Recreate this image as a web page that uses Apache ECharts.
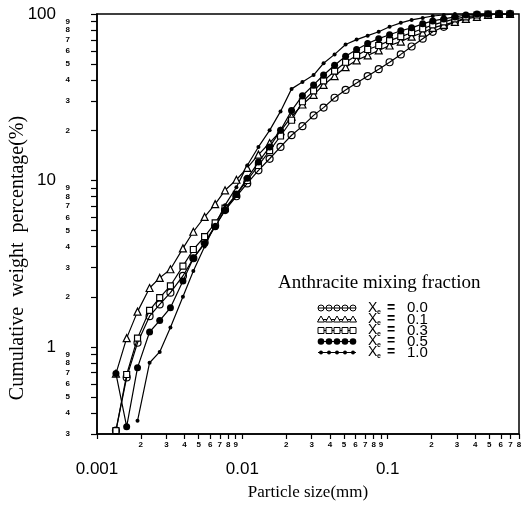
<!DOCTYPE html>
<html><head><meta charset="utf-8">
<script src="https://cdn.jsdelivr.net/npm/echarts@6/dist/echarts.min.js"></script>
<style>html,body{margin:0;padding:0;background:#fff}#c{width:525px;height:506px}</style>
</head><body><div id="c"></div>
<script>
// Particle sizes (mm) of the sieve fractions
const sizes = [0.00135, 0.0016, 0.0019, 0.0023, 0.0027, 0.0032, 0.0039, 0.0046, 0.0055, 0.0065, 0.0076, 0.0091, 0.0108, 0.0129, 0.0154, 0.0183, 0.0218, 0.0259, 0.0309, 0.0362, 0.0431, 0.0513, 0.0611, 0.0728, 0.0867, 0.103, 0.123, 0.146, 0.174, 0.204, 0.243, 0.290, 0.345, 0.411, 0.490, 0.583, 0.694];
// Cumulative weight percentage for each anthracite mixing fraction
const frac00 = [0.314, 0.656, 1.06, 1.53, 1.80, 2.12, 2.67, 3.41, 4.24, 5.34, 6.64, 8.04, 9.60, 11.5, 13.5, 15.9, 18.7, 21.2, 24.6, 27.4, 31.4, 35.0, 38.5, 42.4, 46.6, 51.3, 57.2, 63.8, 71.1, 78.2, 83.8, 89.7, 94.7, 97.3, 98.6, 100, 100];
const frac01 = [0.692, 1.13, 1.63, 2.26, 2.60, 2.93, 3.91, 4.92, 6.04, 7.21, 8.73, 10.1, 11.9, 14.3, 16.8, 19.8, 24.2, 28.6, 32.7, 37.5, 42.4, 47.9, 52.7, 56.4, 60.4, 64.7, 68.3, 73.1, 77.2, 82.6, 86.1, 89.7, 93.4, 96.0, 98.6, 100, 100];
const frac03 = [0.314, 0.683, 1.13, 1.66, 1.98, 2.33, 3.06, 3.85, 4.60, 5.57, 6.83, 8.26, 10.0, 12.3, 15.1, 18.5, 23.0, 29.7, 34.5, 39.6, 45.4, 51.3, 56.4, 61.2, 64.7, 69.2, 73.1, 77.2, 81.5, 86.1, 89.7, 93.4, 96.0, 98.6, 100, 100, 100];
const frac05 = [0.692, 0.332, 0.751, 1.23, 1.44, 1.72, 2.49, 3.41, 4.18, 5.27, 6.64, 8.26, 10.3, 12.9, 15.9, 20.0, 26.3, 32.3, 37.5, 43.0, 49.2, 55.7, 61.2, 66.5, 71.1, 75.1, 79.3, 82.6, 87.3, 90.9, 93.4, 96.0, 98.6, 100, 100, 100, 100];
const frac10 = [null, null, 0.360, 0.804, 0.934, 1.31, 2.00, 2.86, 4.01, 5.42, 7.11, 9.10, 12.3, 15.9, 20.0, 26.0, 35.5, 39.1, 43.0, 50.6, 57.2, 65.6, 70.2, 74.1, 78.2, 83.8, 88.5, 92.1, 94.7, 97.3, 98.6, 100, 100, 100, 100, 100, 100];
const seriesNames = ['0.0', '0.1', '0.3', '0.5', '1.0'];

// Tick labels
const xDecadeTicks = [0.001, 0.01, 0.1];
const xDecadeLabels = ['0.001', '0.01', '0.1'];
const xMinorTicks = [0.002, 0.003, 0.004, 0.005, 0.006, 0.007, 0.008, 0.009, 0.02, 0.03, 0.04, 0.05, 0.06, 0.07, 0.08, 0.09, 0.2, 0.3, 0.4, 0.5, 0.6, 0.7, 0.8];
const xMinorLabels = ['2','3','4','5','6','7','8','9','2','3','4','5','6','7','8','9','2','3','4','5','6','7','8'];
const yDecadeTicks = [1, 10, 100];
const yDecadeLabels = ['1', '10', '100'];
const yMinorTicks = [0.3, 0.4, 0.5, 0.6, 0.7, 0.8, 0.9, 2, 3, 4, 5, 6, 7, 8, 9, 20, 30, 40, 50, 60, 70, 80, 90];
const yMinorLabels = ['3','4','5','6','7','8','9','2','3','4','5','6','7','8','9','2','3','4','5','6','7','8','9'];

const xAllTicks = xDecadeTicks.concat(xMinorTicks);
const yAllTicks = yDecadeTicks.concat(yMinorTicks);

function lookup(ticks, labels) {
  return function (v) {
    let best = 0, bd = Infinity;
    ticks.forEach(function (t, i) { const d = Math.abs(Math.log(v / t)); if (d < bd) { bd = d; best = i; } });
    return labels[best];
  };
}
function pairs(ys) {
  const out = [];
  sizes.forEach(function (s, i) { if (ys[i] != null) out.push([s, ys[i]]); });
  return out;
}

const minorFont = { fontSize: 8, fontWeight: 'bold', color: '#000', fontFamily: 'Liberation Sans' };
const decadeFont = { fontSize: 17, color: '#000', fontFamily: 'Liberation Sans' };
const serif = 'Liberation Serif';

const base = { type: 'line', xAxisIndex: 0, yAxisIndex: 0, lineStyle: { color: '#000', width: 1.2 }, showSymbol: true, animation: false, emphasis: { disabled: true } };

const series = [
  Object.assign({}, base, { name: seriesNames[0], data: pairs(frac00), symbol: 'circle', symbolSize: 7,
    itemStyle: { color: 'rgba(255,255,255,0)', borderColor: '#000', borderWidth: 1.2 } }),
  Object.assign({}, base, { name: seriesNames[1], data: pairs(frac01), symbol: 'triangle', symbolSize: 7,
    itemStyle: { color: '#fff', borderColor: '#000', borderWidth: 1.2 } }),
  Object.assign({}, base, { name: seriesNames[2], data: pairs(frac03), symbol: 'rect', symbolSize: 6,
    itemStyle: { color: '#fff', borderColor: '#000', borderWidth: 1.2 } }),
  Object.assign({}, base, { name: seriesNames[4], data: pairs(frac10), symbol: 'circle', symbolSize: 4,
    itemStyle: { color: '#000' } }),
  Object.assign({}, base, { name: seriesNames[3], data: pairs(frac05), symbol: 'circle', symbolSize: 7, z: 5,
    itemStyle: { color: '#000' } })
];

// Legend (drawn as graphic)
const legRowY = [308, 319.5, 330.5, 341.5, 352.5];
const legMarkX = [321, 329, 337, 345, 353];
const legKinds = ['ocircle', 'tri', 'square', 'fcircle', 'dot'];
const graphic = [
  { type: 'text', left: 278, top: 274, style: { text: 'Anthracite mixing fraction', font: '19px ' + serif, fill: '#000' } },
  { type: 'text', x: 18, y: 258, rotation: Math.PI / 2, style: { text: 'Cumulative  weight  percentage(%)', font: '20px ' + serif, fill: '#000', align: 'center', verticalAlign: 'middle' } }
];
legKinds.forEach(function (k, i) {
  const y = legRowY[i];
  graphic.push({ type: 'line', shape: { x1: 318, y1: y, x2: 356, y2: y }, style: { stroke: '#000', lineWidth: 1 } });
  legMarkX.forEach(function (cx) {
    if (k === 'ocircle') graphic.push({ type: 'circle', shape: { cx: cx, cy: y, r: 3 }, style: { fill: 'rgba(0,0,0,0)', stroke: '#000', lineWidth: 1 } });
    else if (k === 'tri') graphic.push({ type: 'polygon', shape: { points: [[cx, y - 3.5], [cx + 3.5, y + 2.5], [cx - 3.5, y + 2.5]] }, style: { fill: '#fff', stroke: '#000', lineWidth: 1 } });
    else if (k === 'square') graphic.push({ type: 'rect', shape: { x: cx - 3, y: y - 3, width: 6, height: 6 }, style: { fill: '#fff', stroke: '#000', lineWidth: 1 } });
    else if (k === 'fcircle') graphic.push({ type: 'circle', shape: { cx: cx, cy: y, r: 3.3 }, style: { fill: '#000' } });
    else graphic.push({ type: 'circle', shape: { cx: cx, cy: y, r: 2 }, style: { fill: '#000' } });
  });
  graphic.push({ type: 'text', x: 368, y: y, style: { text: 'X', font: '14px Liberation Sans', fill: '#000', verticalAlign: 'middle' } });
  graphic.push({ type: 'text', x: 377, y: y + 4, style: { text: 'e', font: 'bold 7px Liberation Sans', fill: '#000', verticalAlign: 'middle' } });
  graphic.push({ type: 'text', x: 387, y: y, style: { text: '=', font: 'bold 14px Liberation Sans', fill: '#000', verticalAlign: 'middle' } });
  graphic.push({ type: 'text', x: 407, y: y, style: { text: seriesNames[i], font: '15px Liberation Sans', fill: '#000', verticalAlign: 'middle' } });
});

const chart = echarts.init(document.getElementById('c'), null, { renderer: 'canvas' });
chart.setOption({
  animation: false,
  backgroundColor: '#fff',
  grid: { left: 97, top: 14, width: 422, height: 425, show: true, borderColor: '#000', borderWidth: 1.5, backgroundColor: 'rgba(0,0,0,0)' },
  xAxis: [
    { type: 'log', logBase: 10, min: 0.001, max: 0.8, position: 'bottom',
      axisLine: { show: true, lineStyle: { color: '#000', width: 1.5 } },
      axisTick: { show: true, customValues: xAllTicks, length: 5, lineStyle: { color: '#000', width: 1.2 } },
      axisLabel: Object.assign({ customValues: xMinorTicks, formatter: lookup(xMinorTicks, xMinorLabels), margin: 7 }, minorFont),
      splitLine: { show: false }, minorTick: { show: false } },
    { type: 'log', logBase: 10, min: 0.001, max: 0.8, position: 'bottom',
      axisLine: { show: false }, axisTick: { show: false },
      axisLabel: Object.assign({ customValues: xDecadeTicks, formatter: lookup(xDecadeTicks, xDecadeLabels), margin: 27 }, decadeFont),
      splitLine: { show: false },
      name: 'Particle size(mm)', nameLocation: 'middle', nameGap: 50,
      nameTextStyle: { fontFamily: serif, fontSize: 17, color: '#000' } }
  ],
  yAxis: [
    { type: 'log', logBase: 10, min: 0.3, max: 100, position: 'left',
      axisLine: { show: true, lineStyle: { color: '#000', width: 1.5 } },
      axisTick: { show: true, customValues: yAllTicks, length: 6, lineStyle: { color: '#000', width: 1.2 } },
      axisLabel: Object.assign({ customValues: yMinorTicks, formatter: lookup(yMinorTicks, yMinorLabels), margin: 27 }, minorFont),
      splitLine: { show: false }, minorTick: { show: false } },
    { type: 'log', logBase: 10, min: 0.3, max: 100, position: 'left',
      axisLine: { show: false }, axisTick: { show: false },
      axisLabel: Object.assign({ customValues: yDecadeTicks, formatter: lookup(yDecadeTicks, yDecadeLabels), margin: 41 }, decadeFont),
      splitLine: { show: false } }
  ],
  series: series,
  graphic: graphic
});
</script>
</body></html>
